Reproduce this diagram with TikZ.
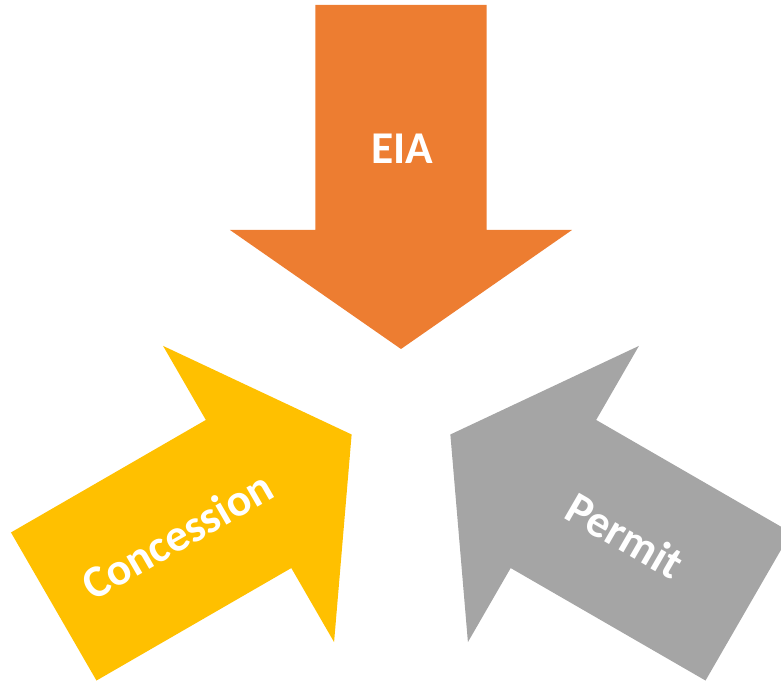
\documentclass[tikz,border=0pt]{standalone}
\usepackage{fontspec}
\setmainfont{Carlito}
\definecolor{eiaorange}{HTML}{ED7D31}
\definecolor{concyellow}{HTML}{FFC000}
\definecolor{permgray}{HTML}{A5A5A5}
\begin{document}
\begin{tikzpicture}[x=1pt,y=1pt,
  lbl/.style={text=white,font=\bfseries\fontsize{45.5}{52}\selectfont,inner sep=0pt},
  arrowpart/.style={draw=none}]
\useasboundingbox (-401,-276) rectangle (380,406);
\clip (-401,-276) rectangle (380,406);
% orange arrow (EIA), pointing down
\fill[eiaorange,arrowpart] (0,57) -- (171,176) -- (85.5,176) -- (85.5,401) -- (-85.5,401) -- (-85.5,176) -- (-171,176) -- cycle;
% yellow arrow (Concession)
\begin{scope}[rotate=120]
\fill[concyellow,arrowpart] (0,57) -- (171,176) -- (85.5,176) -- (85.5,401) -- (-85.5,401) -- (-85.5,176) -- (-171,176) -- cycle;
\end{scope}
% gray arrow (Permit)
\begin{scope}[rotate=-120]
\fill[permgray,arrowpart] (0,57) -- (171,176) -- (85.5,176) -- (85.5,401) -- (-85.5,401) -- (-85.5,176) -- (-171,176) -- cycle;
\end{scope}
\node[lbl] (eia) at (1,257) {EIA};
\node[lbl,rotate=30] (concession) at (210:258.5) {Concession};
\node[lbl,rotate=-30] (permit) at (330:258.5) {Permit};
\end{tikzpicture}
\end{document}
